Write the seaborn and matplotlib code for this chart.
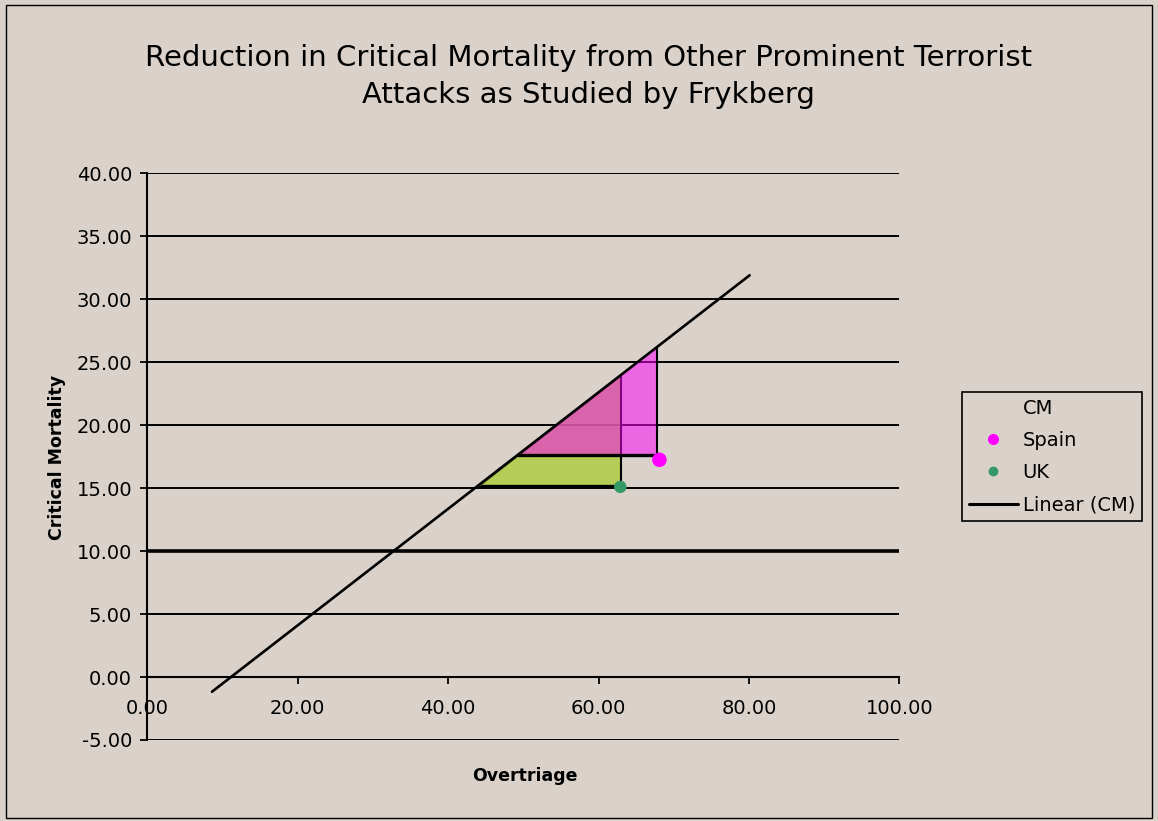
import numpy as np
import pandas as pd
import matplotlib
matplotlib.use("Agg")
import matplotlib.pyplot as plt
import seaborn as sns
from matplotlib.lines import Line2D
from matplotlib.patches import Rectangle, Polygon
from matplotlib.ticker import FormatStrFormatter

# Country data points (overtriage %, critical mortality %)
countries = ["Spain", "UK"]
overtriage = [68.1, 62.9]
critical_mortality = [17.25, 15.1]
point_colors = ["#FF00FF", "#339966"]

# Linear trend fitted to the CM series
trend_slope = 0.4626
trend_intercept = -5.15
trend_x_range = [8.6, 80.1]

# Reference level of critical mortality
threshold = 10.0

# Reduction triangles (base at the observed mortality, apex on the trend line)
spain_tri_x = [49.3, 67.8, 67.8]
spain_tri_y = [17.6, 17.6, 26.1]
uk_tri_x = [44.2, 62.95, 62.95]
uk_tri_y = [15.2, 15.2, 23.9]

x_ticks = [0, 20, 40, 60, 80, 100]
y_ticks = list(range(-5, 45, 5))

BG = "#D9D1CA"

sns.set_theme(style="white")
plt.rcParams["font.family"] = ["DejaVu Sans"]
plt.rcParams["text.color"] = "black"

fig = plt.figure(figsize=(11.58, 8.21), dpi=100, facecolor=BG)
ax = fig.add_axes([0.1272, 0.0987, 0.6494, 0.6902])
ax.set_facecolor(BG)

# horizontal gridlines
for yv in y_ticks:
    ax.axhline(yv, color="black", lw=1.4, zorder=0.5)
ax.axhline(threshold, color="black", lw=2.6, zorder=0.6)

# reduction triangles
uk_tri = Polygon(list(zip(uk_tri_x, uk_tri_y)), closed=True,
                 facecolor=(172/255, 203/255, 53/255, 0.78), edgecolor="none", zorder=1)
ax.add_patch(uk_tri)
ax.plot(uk_tri_x[:2], uk_tri_y[:2], color="black", lw=2.4, zorder=1.5)
ax.plot(uk_tri_x[1:], uk_tri_y[1:], color="black", lw=1.5, zorder=1.5)
ax.plot([uk_tri_x[0], uk_tri_x[2]], [uk_tri_y[0], uk_tri_y[2]], color="#4f6a1a", lw=1.2, zorder=1.5)

spain_tri = Polygon(list(zip(spain_tri_x, spain_tri_y)), closed=True,
                    facecolor=(1.0, 0.0, 1.0, 0.51), edgecolor="none", zorder=2)
ax.add_patch(spain_tri)
ax.plot(spain_tri_x[:2], spain_tri_y[:2], color="black", lw=2.4, zorder=2.5)
ax.plot(spain_tri_x[1:], spain_tri_y[1:], color="black", lw=1.5, zorder=2.5)

# trend line
trend_x = np.array(trend_x_range)
trend_df = pd.DataFrame({"x": trend_x, "y": trend_slope * trend_x + trend_intercept})
sns.lineplot(data=trend_df, x="x", y="y", color="black", lw=1.9, ax=ax, zorder=3)

# country points
pts = pd.DataFrame({"Country": countries, "Overtriage": overtriage, "CM": critical_mortality})
sns.scatterplot(data=pts, x="Overtriage", y="CM", hue="Country",
                palette=dict(zip(countries, point_colors)), s=[110, 80],
                edgecolor="none", legend=False, ax=ax, zorder=4)

ax.set_xlim(0, 100)
ax.set_ylim(-5, 40)
ax.set_xticks(x_ticks)
ax.set_yticks(y_ticks)
ax.xaxis.set_major_formatter(FormatStrFormatter("%.2f"))
ax.yaxis.set_major_formatter(FormatStrFormatter("%.2f"))

for s in ["top", "right"]:
    ax.spines[s].set_visible(False)
ax.spines["bottom"].set_position(("data", 0))
ax.spines["bottom"].set_color("black")
ax.spines["bottom"].set_linewidth(1.5)
ax.spines["left"].set_color("black")
ax.spines["left"].set_linewidth(1.5)

ax.tick_params(axis="x", direction="out", length=5, width=1.3, color="black",
               pad=11, labelsize=14, labelcolor="black", bottom=True)
ax.tick_params(axis="y", direction="out", length=5, width=1.3, color="black",
               pad=6, labelsize=14, labelcolor="black", left=True)

ax.set_xlabel("")
ax.set_ylabel("")
fig.text(0.453, 0.055, "Overtriage", ha="center", va="center",
         fontsize=12.5, fontweight="bold", color="black")
fig.text(0.049, 0.443, "Critical Mortality", ha="center", va="center",
         rotation=90, fontsize=12.5, fontweight="bold", color="black")

fig.text(0.508, 0.907, "Reduction in Critical Mortality from Other Prominent Terrorist\n"
         "Attacks as Studied by Frykberg", ha="center", va="center",
         fontsize=21, linespacing=1.42, color="black")

handles = [
    Line2D([], [], linestyle="none", marker=None),
    Line2D([], [], linestyle="none", marker="o", color="#FF00FF", markersize=7),
    Line2D([], [], linestyle="none", marker="o", color="#339966", markersize=6),
    Line2D([], [], color="black", lw=2.2),
]
labels = ["CM", "Spain", "UK", "Linear (CM)"]
leg = fig.legend(handles, labels, loc="upper left",
                 bbox_to_anchor=(0.831, 0.5225), fontsize=14,
                 frameon=True, fancybox=False, edgecolor="black",
                 facecolor=BG, framealpha=1, borderpad=0.35,
                 handlelength=2.5, handletextpad=0.25, labelspacing=0.68,
                 borderaxespad=0)
leg.get_frame().set_linewidth(1.2)
for t in leg.get_texts():
    t.set_color("black")

# outer chart border
fig.patches.append(Rectangle((0.005, 0.004), 0.99, 0.99, transform=fig.transFigure,
                             fill=False, edgecolor="black", lw=1.0))

fig.savefig("out.png", dpi=100, facecolor=BG)
